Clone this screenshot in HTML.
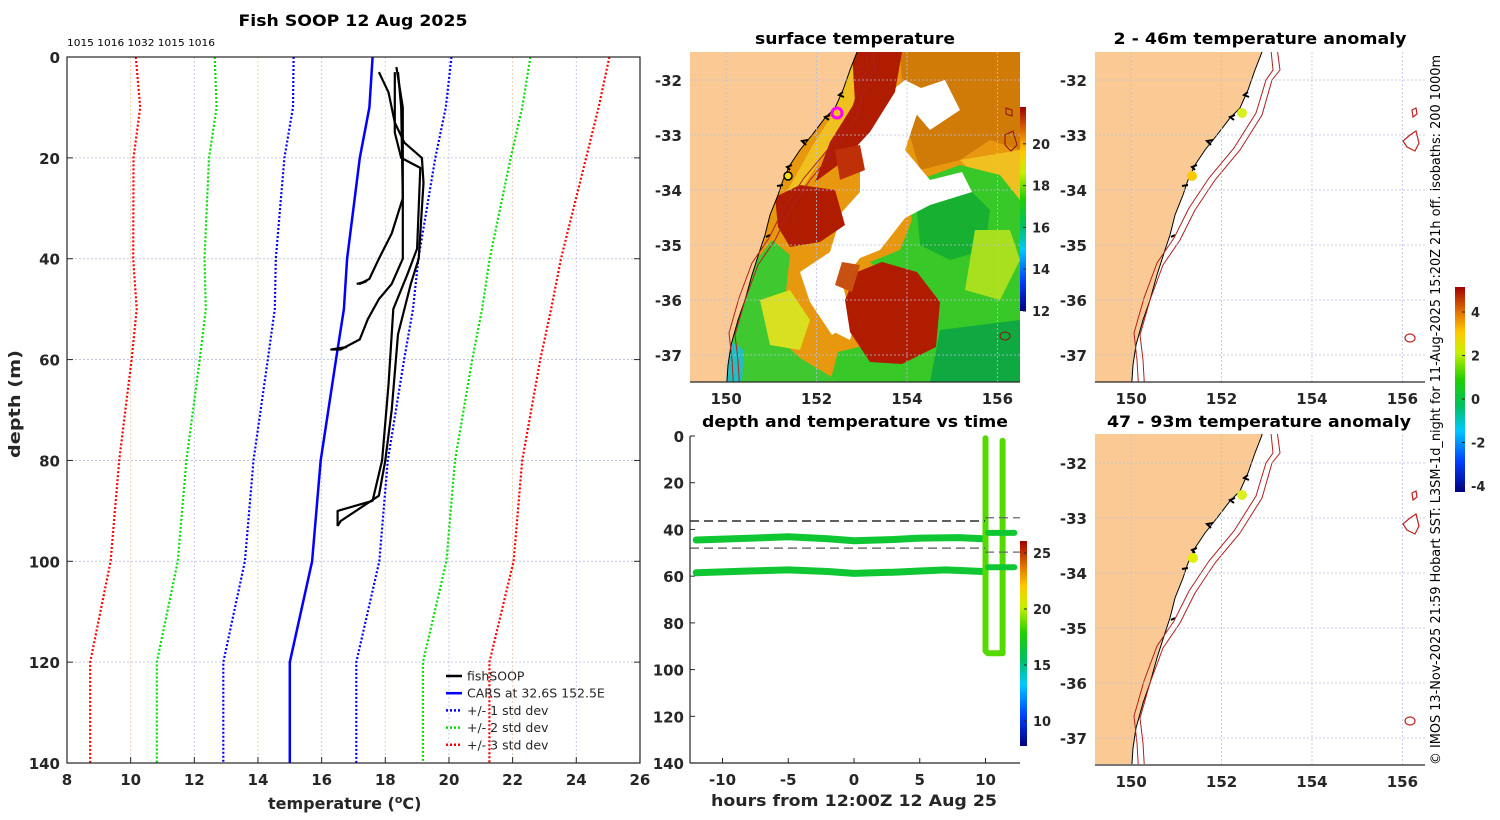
<!DOCTYPE html>
<html><head><meta charset="utf-8"><title>Fish SOOP 12 Aug 2025</title>
<style>
html,body{margin:0;padding:0;background:#fff;}
svg{display:block;font-family:"DejaVu Sans","Liberation Sans",sans-serif;}
.tk{font-size:15px;font-weight:bold;fill:#262626;}
.ttl{font-size:16px;font-weight:bold;fill:#000;}
.grid{stroke:#b8c0e0;stroke-width:0.8;stroke-dasharray:2,2;}
.grido{stroke:#e8c8a8;stroke-width:0.8;stroke-dasharray:2,2;}
</style></head>
<body>
<svg id="fig" width="1500" height="820" viewBox="0 0 1500 820" xmlns="http://www.w3.org/2000/svg">
<defs>
 <linearGradient id="jet" x1="0" y1="1" x2="0" y2="0">
  <stop offset="0" stop-color="#000080"/><stop offset="0.15" stop-color="#0040ff"/>
  <stop offset="0.3" stop-color="#00c8ff"/><stop offset="0.42" stop-color="#00c060"/>
  <stop offset="0.55" stop-color="#20d000"/><stop offset="0.68" stop-color="#c8f000"/>
  <stop offset="0.78" stop-color="#ffc800"/><stop offset="0.88" stop-color="#e07000"/>
  <stop offset="1" stop-color="#a00000"/>
 </linearGradient>
 <clipPath id="clipSST"><rect x="690" y="52" width="330" height="330"/></clipPath>
 <clipPath id="clipA1"><rect x="1095" y="52" width="330" height="330"/></clipPath>
 <clipPath id="clipA2"><rect x="1095" y="434" width="330" height="330"/></clipPath>
 <g id="landshape">
  <polygon fill="#fbc994" stroke="#000" stroke-width="1" points="600,40 857,40 857,52 850,70 843,90 835,108 825,118 812,135 800,150 790,165 783,180 778,195 770,215 765,235 760,250 752,275 745,300 738,320 731,345 728,365 726,395 600,395"/>
  <path d="M843,92 l-4,3 l5,2 M830,115 l-5,2 l4,3 M808,140 l-6,1 l4,4 M792,165 l-5,2 l3,3 M783,185 l-6,1 M770,235 l-4,2" stroke="#000" stroke-width="2" fill="none"/>
 </g>
 <g id="isobaths" fill="none" stroke="#b02020" stroke-width="1">
  <polyline points="871,40 875,70 867,80 857,115 835,150 810,180 790,210 775,240 758,265 745,300 735,335 738,360 740,395"/>
  <polyline points="865,40 868,70 861,80 851,113 829,148 804,178 784,208 769,238 752,263 739,298 729,333 732,360 734,395"/>
 </g>
</defs>

<!-- ============ LEFT PROFILE ============ -->
<g>
 <text class="ttl" x="353" y="26" text-anchor="middle" textLength="229" lengthAdjust="spacingAndGlyphs">Fish SOOP 12 Aug 2025</text>
 <text x="67" y="46" style="font-size:10px" textLength="148" lengthAdjust="spacingAndGlyphs" fill="#000">1015 1016 1032 1015 1016</text>
 <g id="pgrid"></g>
 <g id="pseries"></g>
 <rect x="67" y="57" width="573" height="706" fill="none" stroke="#262626" stroke-width="1.2"/>
 <g id="paxes"></g>
 <text class="tk" x="268" y="809" style="font-size:16px">temperature (<tspan dy="-6" style="font-size:11px">o</tspan><tspan dy="6">C)</tspan></text>
 <text class="tk" transform="translate(20,404) rotate(-90)" text-anchor="middle" style="font-size:16px" textLength="108" lengthAdjust="spacingAndGlyphs">depth (m)</text>
 <g id="plegend"></g>
</g>

<!-- ============ SST MAP ============ -->
<g>
 <text class="ttl" x="855" y="44" text-anchor="middle" textLength="200" lengthAdjust="spacingAndGlyphs">surface temperature</text>
 <g clip-path="url(#clipSST)">
  <rect x="690" y="52" width="330" height="330" fill="#e8980e"/>
  <polygon fill="#d07a08" points="900,52 1020,52 1020,150 990,140 960,160 920,170 905,120"/>
  <polygon fill="#f0c020" points="960,160 1020,150 1020,200 990,190"/>
  <polygon fill="#38c828" points="905,185 960,165 1000,175 1020,200 1020,382 830,382 838,352 880,342 905,305 890,280 870,262 900,250 912,220"/>
  <polygon fill="#18b030" points="915,190 960,180 990,210 985,250 950,260 920,245"/>
  <polygon fill="#a8e020" points="975,230 1010,230 1020,260 1000,300 965,290"/>
  <polygon fill="#10a840" points="940,330 1020,320 1020,382 930,382"/>
  <polygon fill="#40c830" points="727,382 733,322 755,262 772,240 790,255 785,300 770,330 800,358 840,382"/>
  <polygon fill="#d8e020" points="760,300 790,290 810,320 800,350 770,345"/>
  <polygon fill="#20c0c0" points="725,382 728,340 744,350 742,382"/>
  <polygon fill="#f0c020" points="845,60 858,52 855,110 820,160 795,200 785,195 810,150 835,110"/>
  <polygon fill="#ffffff" points="850,125 880,100 905,80 925,90 905,150 930,180 962,172 972,192 930,205 905,218 880,250 860,258 842,282 852,322 832,335 810,302 800,272 830,252 842,212 860,192 860,160"/>
  <polygon fill="#ffffff" points="900,95 945,80 960,110 930,130"/>
  <polygon fill="#ffffff" points="840,300 860,305 850,340 830,330"/>
  <polygon fill="#b01c00" points="852,52 902,52 895,92 870,132 842,162 815,182 830,142 855,102"/>
  <polygon fill="#b01c00" points="775,197 800,185 835,190 845,225 820,242 790,247 778,227"/>
  <polygon fill="#c03008" points="835,150 860,145 865,170 840,180"/>
  <polygon fill="#b01c00" points="857,272 882,262 917,272 940,302 936,347 902,364 870,362 850,332 845,300"/>
  <polygon fill="#c85010" points="842,262 860,265 852,292 835,285"/>
  <use href="#landshape"/>
  <use href="#isobaths"/>
  <path d="M1006,108 l6,2 l0,6 l-6,-2z M1005,135 l8,-4 l4,14 l-6,6 l-6,-6z M1000,336 a5,4 0 1,0 10,0 a5,4 0 1,0 -10,0" fill="none" stroke="#901010" stroke-width="1"/>
  <circle cx="837" cy="113" r="5" fill="none" stroke="#ff00ff" stroke-width="3"/>
  <circle cx="788" cy="176" r="4" fill="#f8e000" stroke="#000" stroke-width="1.5"/>
 </g>
 <g id="sstgrid"></g>
 <rect x="1020" y="107" width="6" height="204" fill="url(#jet)"/>
 <g id="sstcb"></g>
</g>

<!-- ============ DEPTH-TIME ============ -->
<g>
 <text class="ttl" x="855" y="427" text-anchor="middle" textLength="306" lengthAdjust="spacingAndGlyphs">depth and temperature vs time</text>
 <g id="dtseries"></g>
 <line x1="690" y1="436" x2="690" y2="763" stroke="#262626" stroke-width="1.2"/>
 <line x1="690" y1="763" x2="1020" y2="763" stroke="#262626" stroke-width="1.2"/>
 <g id="dtaxes"></g>
 <text class="tk" x="854" y="806" text-anchor="middle" style="font-size:16px" textLength="286" lengthAdjust="spacingAndGlyphs">hours from 12:00Z 12 Aug 25</text>
 <rect x="1020" y="541" width="7" height="205" fill="url(#jet)"/>
 <g id="dtcb"></g>
</g>

<!-- ============ ANOMALY MAPS ============ -->
<g>
 <text class="ttl" x="1260" y="44" text-anchor="middle" textLength="293" lengthAdjust="spacingAndGlyphs">2 - 46m temperature anomaly</text>
 <g clip-path="url(#clipA1)">
  <g transform="translate(405,0)"><use href="#landshape"/><use href="#isobaths"/></g>
 </g>
 <g id="a1grid"></g>
 <circle cx="1242" cy="113" r="5" fill="#d8f020"/>
 <circle cx="1192" cy="176" r="5" fill="#f8c800"/>
</g>
<g>
 <text class="ttl" x="1259" y="427" text-anchor="middle" textLength="304" lengthAdjust="spacingAndGlyphs">47 - 93m temperature anomaly</text>
 <g clip-path="url(#clipA2)">
  <g transform="translate(405,383)"><use href="#landshape"/><use href="#isobaths"/></g>
 </g>
 <g id="a2grid"></g>
 <circle cx="1242" cy="495" r="5" fill="#d8f020"/>
 <circle cx="1193" cy="558" r="5" fill="#e0f000"/>
</g>
<rect x="1455" y="287" width="10" height="205" fill="url(#jet)"/>
<g id="anomcb"></g>
<text transform="translate(1440,765) rotate(-90)" style="font-size:13px" textLength="710" lengthAdjust="spacingAndGlyphs" fill="#000">© IMOS 13-Nov-2025 21:59 Hobart SST: L3SM-1d_night for 11-Aug-2025 15:20Z 21h off. isobaths: 200  1000m</text>
</svg>

<script>
// ---------- Profile data ----------
const depthLevels = [0,10,20,40,50,60,80,100,120,140];
const carsMean   = [17.6,17.5,17.2,16.8,16.7,16.45,15.97,15.7,15.0,15.0];
const carsStd    = [2.48,2.4,2.37,2.24,2.17,2.14,2.11,2.11,2.09,2.09];
const tempTicks  = [8,10,12,14,16,18,20,22,24,26];
const depthTicks = [0,20,40,60,80,100,120,140];
const fishTemp1 = [17.8,18.1,18.3,18.6,19.15,19.2,19.05,18.8,18.4,18.2,18.0,17.8,16.6,16.5];
const fishDep1  = [3,7,13,17,20,25,40,45,55,70,80,87,92,93];
const fishTemp2 = [18.3,18.3,18.5,19.1,19.0,18.7,18.25,18.1,17.9,17.6,16.5,16.5];
const fishDep2  = [3,15,20,22,38,43,50,65,80,88,90,93];
const fishTemp3 = [18.4,18.5,18.55,18.2,17.8,17.5,17.2,17.4,17.1];
const fishDep3  = [3,10,28,35,40,44,45,44.5,45];
const fishTemp4 = [18.35,18.55,18.55,18.2,17.8,17.45,17.2,16.6,16.3,16.8];
const fishDep4  = [2,10,40,45,48,52,56,58,58,57.5];

// ---------- Depth-time data ----------
const bandHours1 = [-12,-8,-5,-2,0,3,5,8,9.8];
const bandDep1   = [44.5,43.8,43.1,44.0,44.8,44.3,43.7,43.5,44.0];
const bandHours2 = [-12,-8,-5,-2,0,3,5,7,9.8];
const bandDep2   = [58.5,57.8,57.3,58.0,58.8,58.3,57.8,57.3,58.0];
const castHours  = [10.0,10.0,10.2,11.3,11.3];
const castDep    = [1,92,93,93,2];
const stubHours1 = [10.2,12.2]; const stubDep1 = [41.5,41.5];
const stubHours2 = [10.2,12.2]; const stubDep2 = [56.2,56.2];
const bandTemp = 16.6, castTemp = 18.6;
const hourTicks = [-10,-5,0,5,10];
const dtDepthTicks = [0,20,40,60,80,100,120,140];
const dashDepthA = [36.4,35.0]; const dashDepthB = [48.0,49.7];

// ---------- Map ticks ----------
const lonTicks = [150,152,154,156];
const latTicks = [-32,-33,-34,-35,-36,-37];
const sstCbTicks = [12,14,16,18,20];
const dtCbTicks = [10,15,20,25];
const anomCbTicks = [-4,-2,0,2,4];

const NS="http://www.w3.org/2000/svg";
function mk(tag,attrs,parent){const e=document.createElementNS(NS,tag);for(const k in attrs)e.setAttribute(k,attrs[k]);parent.appendChild(e);return e;}
function txt(s,attrs,parent){const e=mk('text',attrs,parent);e.textContent=s;return e;}

// Profile axes
const xT = t => 67+(t-8)*31.83;
const yD = d => 57+d*5.043;
const pg=document.getElementById('pgrid'), pa=document.getElementById('paxes'), ps=document.getElementById('pseries');
tempTicks.forEach((t,i)=>{
  if(i>0&&i<tempTicks.length-1){const l=mk('line',{x1:xT(t),x2:xT(t),y1:57,y2:763,class:(i%2?'grido':'grid')},pg);
  
  }
  mk('line',{x1:xT(t),x2:xT(t),y1:763,y2:757,stroke:'#262626'},pa);
  const tl=txt(String(t),{x:xT(t),y:785,class:'tk','text-anchor':'middle'},pa);
  
  
});
depthTicks.forEach((d,i)=>{
  if(i>0&&i<depthTicks.length-1){const l=mk('line',{x1:67,x2:640,y1:yD(d),y2:yD(d),class:'grid'},pg);
  
  }
  mk('line',{x1:67,x2:73,y1:yD(d),y2:yD(d),stroke:'#262626'},pa);
  mk('line',{x1:634,x2:640,y1:yD(d),y2:yD(d),stroke:'#262626'},pa);
  const tl=txt(String(d),{x:60,y:yD(d)+6,class:'tk','text-anchor':'end'},pa);
  
  
});
function pline(temps,deps,stroke,w,dash,name){
  const pts=temps.map((t,i)=>xT(t).toFixed(1)+','+yD(deps[i]).toFixed(1)).join(' ');
  const a={points:pts,fill:'none',stroke:stroke,'stroke-width':w,'stroke-linejoin':'round'};
  if(dash)a['stroke-dasharray']=dash;
  const p=mk('polyline',a,ps);
  
  
}
const stdCols=['#0000ff','#00e000','#ff0000'];
[1,2,3].forEach(k=>{
  pline(carsMean.map((m,i)=>m-k*carsStd[i]),depthLevels,stdCols[k-1],2.2,'2,2','std-minus-'+k);
  pline(carsMean.map((m,i)=>m+k*carsStd[i]),depthLevels,stdCols[k-1],2.2,'2,2','std-plus-'+k);
});
pline(carsMean,depthLevels,'#0000ff',2.5,null,'cars-mean-line');
pline(fishTemp1,fishDep1,'#000',2.2,null,'fishsoop-profile-1');
pline(fishTemp2,fishDep2,'#000',2.2,null,'fishsoop-profile-2');
pline(fishTemp3,fishDep3,'#000',2.2,null,'fishsoop-profile-3');
pline(fishTemp4,fishDep4,'#000',2.2,null,'fishsoop-profile-4');
// legend
const lg=document.getElementById('plegend');
const legItems=[['fishSOOP','#000',null],['CARS at 32.6S 152.5E','#0000ff',null],['+/- 1 std dev','#0000ff','2,2'],['+/- 2 std dev','#00e000','2,2'],['+/- 3 std dev','#ff0000','2,2']];
legItems.forEach((it,i)=>{
  const y=676+i*17.2;
  const a={x1:446,x2:462,y1:y,y2:y,stroke:it[1],'stroke-width':2.5};
  if(it[2])a['stroke-dasharray']=it[2];
  const l=mk('line',a,lg);
  
  
  const t=txt(it[0],{x:467,y:y+4.5,'font-size':'12.5px',fill:'#262626'},lg);
  
  
});

// Depth-time
const xH = h => 854+h*13.15;
const yM = d => 436+d*2.336;
const da=document.getElementById('dtaxes'), ds=document.getElementById('dtseries');
hourTicks.forEach(h=>{
  mk('line',{x1:xH(h),x2:xH(h),y1:763,y2:758,stroke:'#262626'},da);
  const t=txt(String(h),{x:xH(h),y:785,class:'tk','text-anchor':'middle'},da);
  
  
});
dtDepthTicks.forEach(d=>{
  mk('line',{x1:690,x2:695,y1:yM(d),y2:yM(d),stroke:'#262626'},da);
  const t=txt(String(d),{x:684,y:yM(d)+6,class:'tk','text-anchor':'end'},da);
  
  
});
function jet(v,lo,hi){
  const stops=[[0,[0,0,128]],[0.15,[0,64,255]],[0.3,[0,200,255]],[0.42,[0,192,96]],[0.55,[32,208,0]],[0.68,[200,240,0]],[0.78,[255,200,0]],[0.88,[224,112,0]],[1,[160,0,0]]];
  let f=Math.max(0,Math.min(1,(v-lo)/(hi-lo)));
  for(let i=1;i<stops.length;i++){if(f<=stops[i][0]){const a=stops[i-1],b=stops[i];const u=(f-a[0])/(b[0]-a[0]);
    const c=a[1].map((x,j)=>Math.round(x+(b[1][j]-x)*u));return 'rgb('+c.join(',')+')';}}
  return 'rgb(160,0,0)';
}
function dline(hs,dps,temp,w,name){
  const pts=hs.map((h,i)=>xH(h).toFixed(1)+','+yM(dps[i]).toFixed(1)).join(' ');
  const p=mk('polyline',{points:pts,fill:'none',stroke:jet(temp,7.8,26.1),'stroke-width':w,'stroke-linecap':'round','stroke-linejoin':'round'},ds);
  
  
}
dline(bandHours1,bandDep1,bandTemp,7,'depth-band-45m');
dline(bandHours2,bandDep2,bandTemp,7,'depth-band-58m');
dline(castHours,castDep,castTemp,6,'profile-casts');
dline(stubHours1,stubDep1,bandTemp,6,'stub-42m');
dline(stubHours2,stubDep2,bandTemp,6,'stub-56m');
[[dashDepthA,'#000'],[dashDepthB,'#555']].forEach((dd,i)=>{
  const l1=mk('line',{x1:690,x2:985,y1:yM(dd[0][0]),y2:yM(dd[0][0]),stroke:dd[1],'stroke-width':1.2,'stroke-dasharray':'9,5'},ds);
  
  
  const l2=mk('line',{x1:985,x2:1020,y1:yM(dd[0][1]),y2:yM(dd[0][1]),stroke:'#666','stroke-width':1.2,'stroke-dasharray':'9,5'},ds);
  
  
});
function cbar(g,ticks,x,y0v,yPerV,v0){
  ticks.forEach(v=>{
    const y=y0v-(v-v0)*yPerV;
    mk('line',{x1:x-3,x2:x,y1:y,y2:y,stroke:'#262626'},g);
    const t=txt(String(v),{x:x+6,y:y+5,class:'tk',style:'font-size:13px'},g);
    
    
  });
}
cbar(document.getElementById('dtcb'),dtCbTicks,1027,721,11.2,10);
cbar(document.getElementById('sstcb'),sstCbTicks,1026,311,20.9,12);
cbar(document.getElementById('anomcb'),anomCbTicks,1465,486,21.75,-4);

// Map grids & ticks
function mapAxes(gid,x0,yoff){
  const g=document.getElementById(gid);
  const lonX=l=>x0+(l-149.2)*45.2;
  const latY=l=>yoff+80+(-32-l)*55;
  lonTicks.forEach(l=>{
    const gl=mk('line',{x1:lonX(l),x2:lonX(l),y1:yoff+52,y2:yoff+382,class:'grid'},g);
    
    
    const t=txt(String(l),{x:lonX(l),y:yoff+404,class:'tk','text-anchor':'middle'},g);
    
    
  });
  latTicks.forEach(l=>{
    const gl=mk('line',{x1:x0,x2:x0+330,y1:latY(l),y2:latY(l),class:'grid'},g);
    
    
    const t=txt(String(l),{x:x0-8,y:latY(l)+6,class:'tk','text-anchor':'end'},g);
    
    
  });
  mk('line',{x1:x0,x2:x0+330,y1:yoff+382,y2:yoff+382,stroke:'#262626','stroke-width':1.2},g);
}
mapAxes('sstgrid',690,0);
mapAxes('a1grid',1095,0);
mapAxes('a2grid',1095,383);
[0,383].forEach(off=>{
  const g=document.getElementById(off?'a2grid':'a1grid');
  const p=mk('path',{d:`M1412,${110+off} l4,-2 l1,6 l-4,3z M1410,${135+off} l6,-4 l3,12 l-4,8 l-8,-4 l-4,-6z M1405,${338+off} a5,4 0 1,0 10,0 a5,4 0 1,0 -10,0`,fill:'none',stroke:'#c02020','stroke-width':1.2},g);
  
  
});
</script>
</body></html>
